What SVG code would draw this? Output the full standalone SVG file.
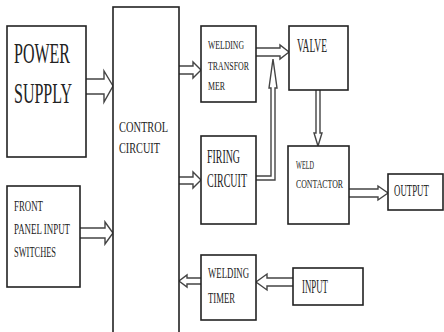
<svg xmlns="http://www.w3.org/2000/svg" width="444" height="332" viewBox="0 0 444 332">
<style>
.box{fill:#fff;stroke:#222;stroke-width:1.6}
.arr{fill:#fff;stroke:#444;stroke-width:1.4;stroke-linejoin:miter}
text{font-family:"Liberation Serif","Times New Roman",serif;fill:#222}
</style>
<rect width="444" height="332" fill="#fff"/>
<g id="connectors">
<path class="arr" d="M86,79 H104 V71 L113,86 L104,102 V94 H86"/>
<path class="arr" d="M80,228 H105 V222 L113,233 L105,244 V238 H80"/>
<path class="arr" d="M179,66 H193 V62 L201,70 L193,78 V74 H179"/>
<path class="arr" d="M179,177 H193 V172 L201,180 L193,188 V184 H179"/>
<path class="arr" d="M256,48 H280 V45 L289,52 L280,59 V56 H256"/>
<path class="arr" d="M316,90 V133 H314 L318,146 L322,133 H320 V90"/>
<path class="arr" d="M256,176 H271 V88 H269 L273,59 L277,88 H275 V180 H256"/>
<path class="arr" d="M349,189 H378 V186 L388,193 L378,200 V197 H349"/>
<path class="arr" d="M201,278 H187 V275 L179,281 L187,287 V284 H201"/>
<path class="arr" d="M293,278 H267 V274 L256,282 L267,290 V286 H293"/>
</g>
<g id="power-supply">
<rect class="box" x="7" y="26" width="79" height="131"/>
<text x="14" y="63" font-size="29" textLength="56" lengthAdjust="spacingAndGlyphs">POWER</text>
<text x="14" y="103" font-size="29" textLength="58" lengthAdjust="spacingAndGlyphs">SUPPLY</text>
</g>
<g id="control-circuit">
<rect class="box" x="113" y="7" width="66" height="340"/>
<text x="119" y="132" font-size="15" textLength="49" lengthAdjust="spacingAndGlyphs">CONTROL</text>
<text x="119" y="153" font-size="15" textLength="41" lengthAdjust="spacingAndGlyphs">CIRCUIT</text>
</g>
<g id="welding-transformer">
<rect class="box" x="201" y="26" width="55" height="76"/>
<text x="208" y="49" font-size="13.5" textLength="36" lengthAdjust="spacingAndGlyphs">WELDING</text>
<text x="208" y="70" font-size="13.5" textLength="41" lengthAdjust="spacingAndGlyphs">TRANSFOR</text>
<text x="208" y="90" font-size="13.5" textLength="17" lengthAdjust="spacingAndGlyphs">MER</text>
</g>
<g id="valve">
<rect class="box" x="289" y="26" width="59" height="64"/>
<text x="297" y="52" font-size="18" textLength="30" lengthAdjust="spacingAndGlyphs">VALVE</text>
</g>
<g id="firing-circuit">
<rect class="box" x="201" y="136" width="55" height="88"/>
<text x="207" y="163" font-size="19" textLength="33" lengthAdjust="spacingAndGlyphs">FIRING</text>
<text x="207" y="187" font-size="19" textLength="40" lengthAdjust="spacingAndGlyphs">CIRCUIT</text>
</g>
<g id="weld-contactor">
<rect class="box" x="288" y="146" width="61" height="78"/>
<text x="296" y="169" font-size="13.5" textLength="18" lengthAdjust="spacingAndGlyphs">WELD</text>
<text x="296" y="188" font-size="13.5" textLength="47" lengthAdjust="spacingAndGlyphs">CONTACTOR</text>
</g>
<g id="output">
<rect class="box" x="388" y="174" width="55" height="36"/>
<text transform="translate(394,196) scale(0.52,1)" font-size="17">OUTPUT</text>
</g>
<g id="front-panel">
<rect class="box" x="7" y="186" width="73" height="101"/>
<text x="14" y="211" font-size="14" textLength="29" lengthAdjust="spacingAndGlyphs">FRONT</text>
<text x="14" y="234" font-size="14" textLength="56" lengthAdjust="spacingAndGlyphs">PANEL INPUT</text>
<text x="14" y="257" font-size="14" textLength="42" lengthAdjust="spacingAndGlyphs">SWITCHES</text>
</g>
<g id="welding-timer">
<rect class="box" x="201" y="255" width="55" height="65"/>
<text x="208" y="278" font-size="15" textLength="41" lengthAdjust="spacingAndGlyphs">WELDING</text>
<text x="208" y="303" font-size="15" textLength="27" lengthAdjust="spacingAndGlyphs">TIMER</text>
</g>
<g id="input">
<rect class="box" x="293" y="268" width="70" height="37"/>
<text x="302" y="293" font-size="18" textLength="26" lengthAdjust="spacingAndGlyphs">INPUT</text>
</g>
</svg>
